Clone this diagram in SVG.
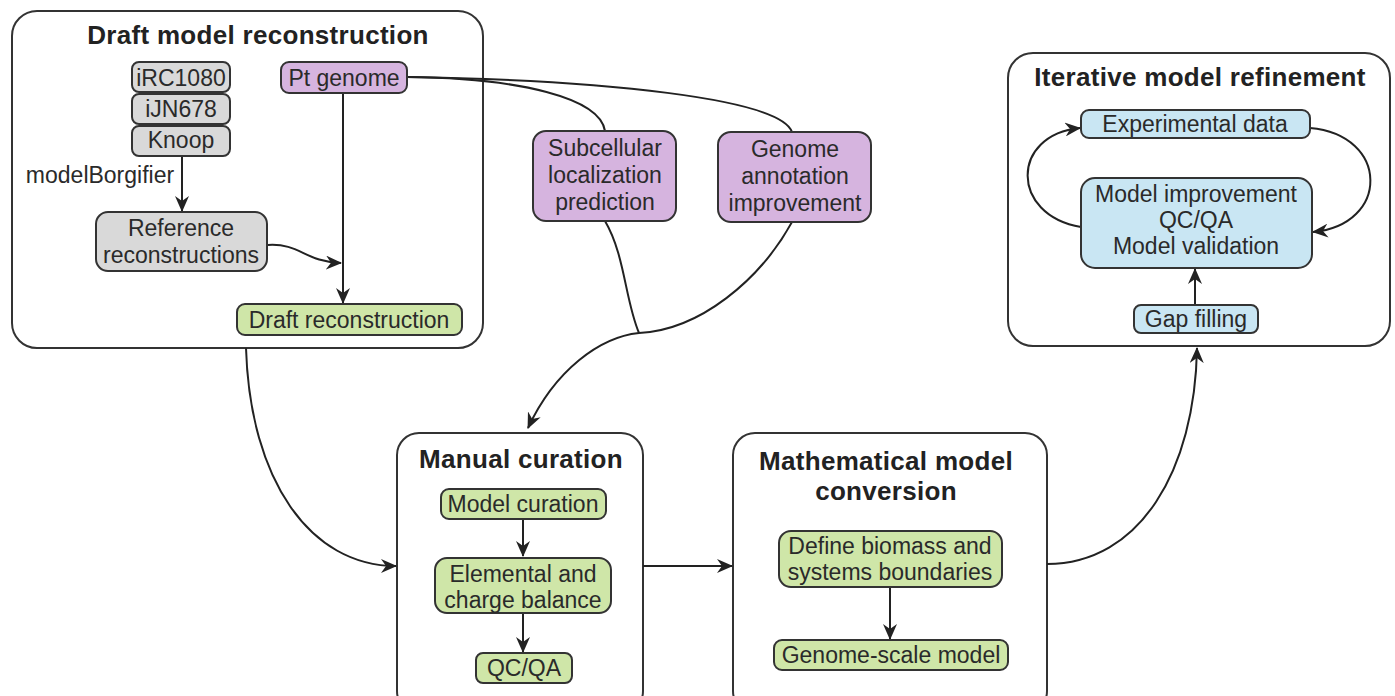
<svg xmlns="http://www.w3.org/2000/svg" width="1395" height="696" viewBox="0 0 1395 696">
<defs>
<marker id="ah" markerUnits="userSpaceOnUse" markerWidth="16" markerHeight="14" viewBox="0 0 16 14" refX="15" refY="7" orient="auto">
<path d="M0,0 L16,7 L0,14 L5,7 z" fill="#222"/>
</marker>
<style>
.panel{fill:#fff;stroke:#333;stroke-width:2}
.n{stroke:#333;stroke-width:2}
.gray{fill:#d9d9d9}
.purple{fill:#d6b4df}
.green{fill:#cfe6a8}
.blue{fill:#c9e6f3}
.t{font-family:"Liberation Sans",Arial,sans-serif;font-size:23px;text-anchor:middle;fill:#2a2a2a}
.title{font-family:"Liberation Sans",Arial,sans-serif;font-size:26px;font-weight:bold;text-anchor:middle;fill:#222;letter-spacing:0.3px}
.c{fill:none;stroke:#222;stroke-width:2}
</style>
</defs>
<rect width="1395" height="696" fill="#fff"/>

<g id="panel-draft">
<rect class="panel" x="12" y="11" width="471" height="337" rx="25"/>
<text class="title" x="258" y="44">Draft model reconstruction</text>
</g>
<g id="panel-manual">
<rect class="panel" x="397" y="433" width="246" height="280" rx="22"/>
<text class="title" x="521" y="468">Manual curation</text>
</g>
<g id="panel-math">
<rect class="panel" x="733" y="433" width="314" height="280" rx="22"/>
<text class="title" x="886" y="470">Mathematical model</text>
<text class="title" x="886" y="500">conversion</text>
</g>
<g id="panel-iter">
<rect class="panel" x="1008" y="53" width="382" height="293" rx="25"/>
<text class="title" x="1200" y="86">Iterative model refinement</text>
</g>

<g id="connectors">
<path class="c" d="M182,156 V211" marker-end="url(#ah)"/>
<path class="c" d="M343,93 V303" marker-end="url(#ah)"/>
<path class="c" d="M268,245 C300,243 305,262 341,263" marker-end="url(#ah)"/>
<path class="c" d="M407,77 C520,78 600,98 605,131"/>
<path class="c" d="M407,77 C600,80 780,98 792,132"/>
<path class="c" d="M605,221 C625,255 625,300 639,333"/>
<path class="c" d="M792,222 C760,280 700,330 639,333"/>
<path class="c" d="M639,333 C600,337 555,370 528,428" marker-end="url(#ah)"/>
<path class="c" d="M246,348 C250,480 310,566 396,566" marker-end="url(#ah)"/>
<path class="c" d="M643,566 H732" marker-end="url(#ah)"/>
<path class="c" d="M523,519 V556" marker-end="url(#ah)"/>
<path class="c" d="M523,613 V652" marker-end="url(#ah)"/>
<path class="c" d="M890,587 V639" marker-end="url(#ah)"/>
<path class="c" d="M1047,564 C1140,564 1195,470 1197,348" marker-end="url(#ah)"/>
<path class="c" d="M1195,305 V269" marker-end="url(#ah)"/>
<path class="c" d="M1081,227 C1010,215 1010,135 1080,128" marker-end="url(#ah)"/>
<path class="c" d="M1310,128 C1390,135 1390,225 1313,232" marker-end="url(#ah)"/>
</g>

<g id="n-irc1080"><rect class="n gray" x="132" y="62" width="98" height="30" rx="7"/><text class="t" x="181" y="86">iRC1080</text></g>
<g id="n-ijn678"><rect class="n gray" x="132" y="94" width="98" height="30" rx="7"/><text class="t" x="181" y="117">iJN678</text></g>
<g id="n-knoop"><rect class="n gray" x="132" y="126" width="98" height="30" rx="7"/><text class="t" x="181" y="148">Knoop</text></g>
<g id="lbl-borg"><text class="t" x="100" y="183">modelBorgifier</text></g>
<g id="n-reference"><rect class="n gray" x="96" y="212" width="171" height="59" rx="12"/><text class="t" x="181" y="236">Reference</text><text class="t" x="181" y="263">reconstructions</text></g>
<g id="n-ptgenome"><rect class="n purple" x="281" y="62" width="126" height="31" rx="8"/><text class="t" x="344" y="86">Pt genome</text></g>
<g id="n-draftrecon"><rect class="n green" x="237" y="304" width="225" height="31" rx="8"/><text class="t" x="349" y="328">Draft reconstruction</text></g>
<g id="n-subcellular"><rect class="n purple" x="533" y="131" width="143" height="90" rx="13"/><text class="t" x="605" y="156">Subcellular</text><text class="t" x="605" y="183">localization</text><text class="t" x="605" y="210">prediction</text></g>
<g id="n-genomeanno"><rect class="n purple" x="718" y="132" width="153" height="90" rx="13"/><text class="t" x="795" y="157">Genome</text><text class="t" x="795" y="184">annotation</text><text class="t" x="795" y="211">improvement</text></g>
<g id="n-modelcuration"><rect class="n green" x="441" y="489" width="165" height="30" rx="8"/><text class="t" x="523" y="512">Model curation</text></g>
<g id="n-elemental"><rect class="n green" x="435" y="558" width="176" height="55" rx="12"/><text class="t" x="523" y="582">Elemental and</text><text class="t" x="523" y="608">charge balance</text></g>
<g id="n-qcqa"><rect class="n green" x="476" y="653" width="96" height="30" rx="7"/><text class="t" x="524" y="676">QC/QA</text></g>
<g id="n-define"><rect class="n green" x="779" y="531" width="223" height="56" rx="12"/><text class="t" x="890" y="554">Define biomass and</text><text class="t" x="890" y="580">systems boundaries</text></g>
<g id="n-gsm"><rect class="n green" x="774" y="640" width="234" height="30" rx="8"/><text class="t" x="891" y="663">Genome-scale model</text></g>
<g id="n-expdata"><rect class="n blue" x="1081" y="110" width="229" height="28" rx="8"/><text class="t" x="1195" y="132">Experimental data</text></g>
<g id="n-improve"><rect class="n blue" x="1081" y="178" width="231" height="90" rx="14"/><text class="t" x="1196" y="202">Model improvement</text><text class="t" x="1196" y="228">QC/QA</text><text class="t" x="1196" y="254">Model validation</text></g>
<g id="n-gap"><rect class="n blue" x="1134" y="305" width="124" height="28" rx="7"/><text class="t" x="1196" y="327">Gap filling</text></g>
</svg>
